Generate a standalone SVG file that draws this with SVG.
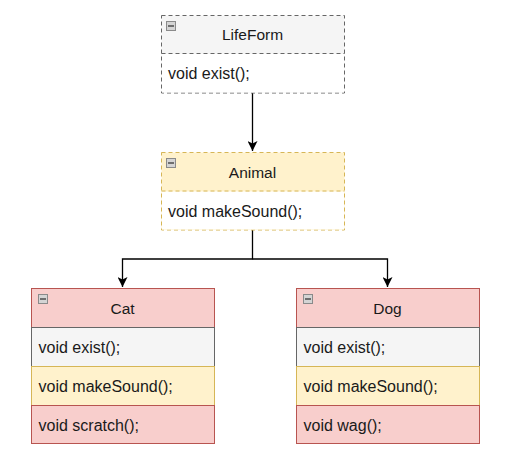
<svg xmlns="http://www.w3.org/2000/svg" width="525" height="451" viewBox="0 0 525 451">
<style>
.t{font-family:"Liberation Sans",Arial,Helvetica,sans-serif;fill:#1a1a1a}
.h{font-size:15.5px;text-anchor:middle}
.m{font-size:16px}
.gray{fill:#f5f5f5;stroke:#666666;stroke-width:1}
.yel{fill:#fff2cc;stroke:#d6b656;stroke-width:1}
.red{fill:#f8cecc;stroke:#b85450;stroke-width:1}
.dash{stroke-dasharray:4 3}
.ic{fill:#d4d4d4;stroke:#8a8a8a;stroke-width:1}
.icl{stroke:#555;stroke-width:1.6}
.edge{fill:none;stroke:#000;stroke-width:1.3}
</style>
<defs>
<marker id="arr" viewBox="0 0 10 10" refX="10" refY="5" markerWidth="10" markerHeight="10" markerUnits="userSpaceOnUse" orient="auto">
<path d="M0,0 L10,5 L0,10 L2.5,5 Z" fill="#000"/>
</marker>
<g id="icon"><rect class="ic" x="0.5" y="0.5" width="9" height="9"/><line class="icl" x1="2" y1="5" x2="8" y2="5"/></g>
</defs>
<g id="connectors">
<path class="edge" d="M252.5,93 L252.5,151" marker-end="url(#arr)"/>
<path class="edge" d="M252.5,230 L252.5,259 L122.5,259 L122.5,287" marker-end="url(#arr)"/>
<path class="edge" d="M252.5,259 L387.5,259 L387.5,287" marker-end="url(#arr)"/>
</g>
<g id="LifeForm">
<rect class="gray dash" x="161.5" y="15.5" width="183" height="77.5"/>
<rect fill="#ffffff" x="162" y="54" width="182" height="38.5"/>
<line class="dash" stroke="#666666" x1="161.5" y1="53.5" x2="344.5" y2="53.5"/>
<use href="#icon" x="166" y="21"/>
<text class="t h" x="252.5" y="40">LifeForm</text>
<text class="t m" x="168" y="79">void exist();</text>
</g>
<g id="Animal">
<rect class="yel dash" x="161.5" y="152.5" width="183" height="77.5"/>
<rect fill="#ffffff" x="162" y="191.5" width="182" height="38"/>
<line class="dash" stroke="#d6b656" x1="161.5" y1="191" x2="344.5" y2="191"/>
<use href="#icon" x="166" y="158"/>
<text class="t h" x="252.5" y="178">Animal</text>
<text class="t m" x="168" y="216.5">void makeSound();</text>
</g>
<g id="Cat">
<rect class="red" x="31.5" y="288.5" width="183" height="155"/>
<rect class="gray" x="31.5" y="327.5" width="183" height="39"/>
<rect class="yel" x="31.5" y="366.5" width="183" height="39"/>
<rect class="red" x="31.5" y="405.5" width="183" height="38"/>
<use href="#icon" x="38" y="294"/>
<text class="t h" x="122.5" y="314">Cat</text>
<text class="t m" x="38.5" y="353">void exist();</text>
<text class="t m" x="38.5" y="392">void makeSound();</text>
<text class="t m" x="38.5" y="431">void scratch();</text>
</g>
<g id="Dog">
<rect class="red" x="296.5" y="288.5" width="183" height="155"/>
<rect class="gray" x="296.5" y="327.5" width="183" height="39"/>
<rect class="yel" x="296.5" y="366.5" width="183" height="39"/>
<rect class="red" x="296.5" y="405.5" width="183" height="38"/>
<use href="#icon" x="303" y="294"/>
<text class="t h" x="387.5" y="314">Dog</text>
<text class="t m" x="303.5" y="353">void exist();</text>
<text class="t m" x="303.5" y="392">void makeSound();</text>
<text class="t m" x="303.5" y="431">void wag();</text>
</g>
</svg>
